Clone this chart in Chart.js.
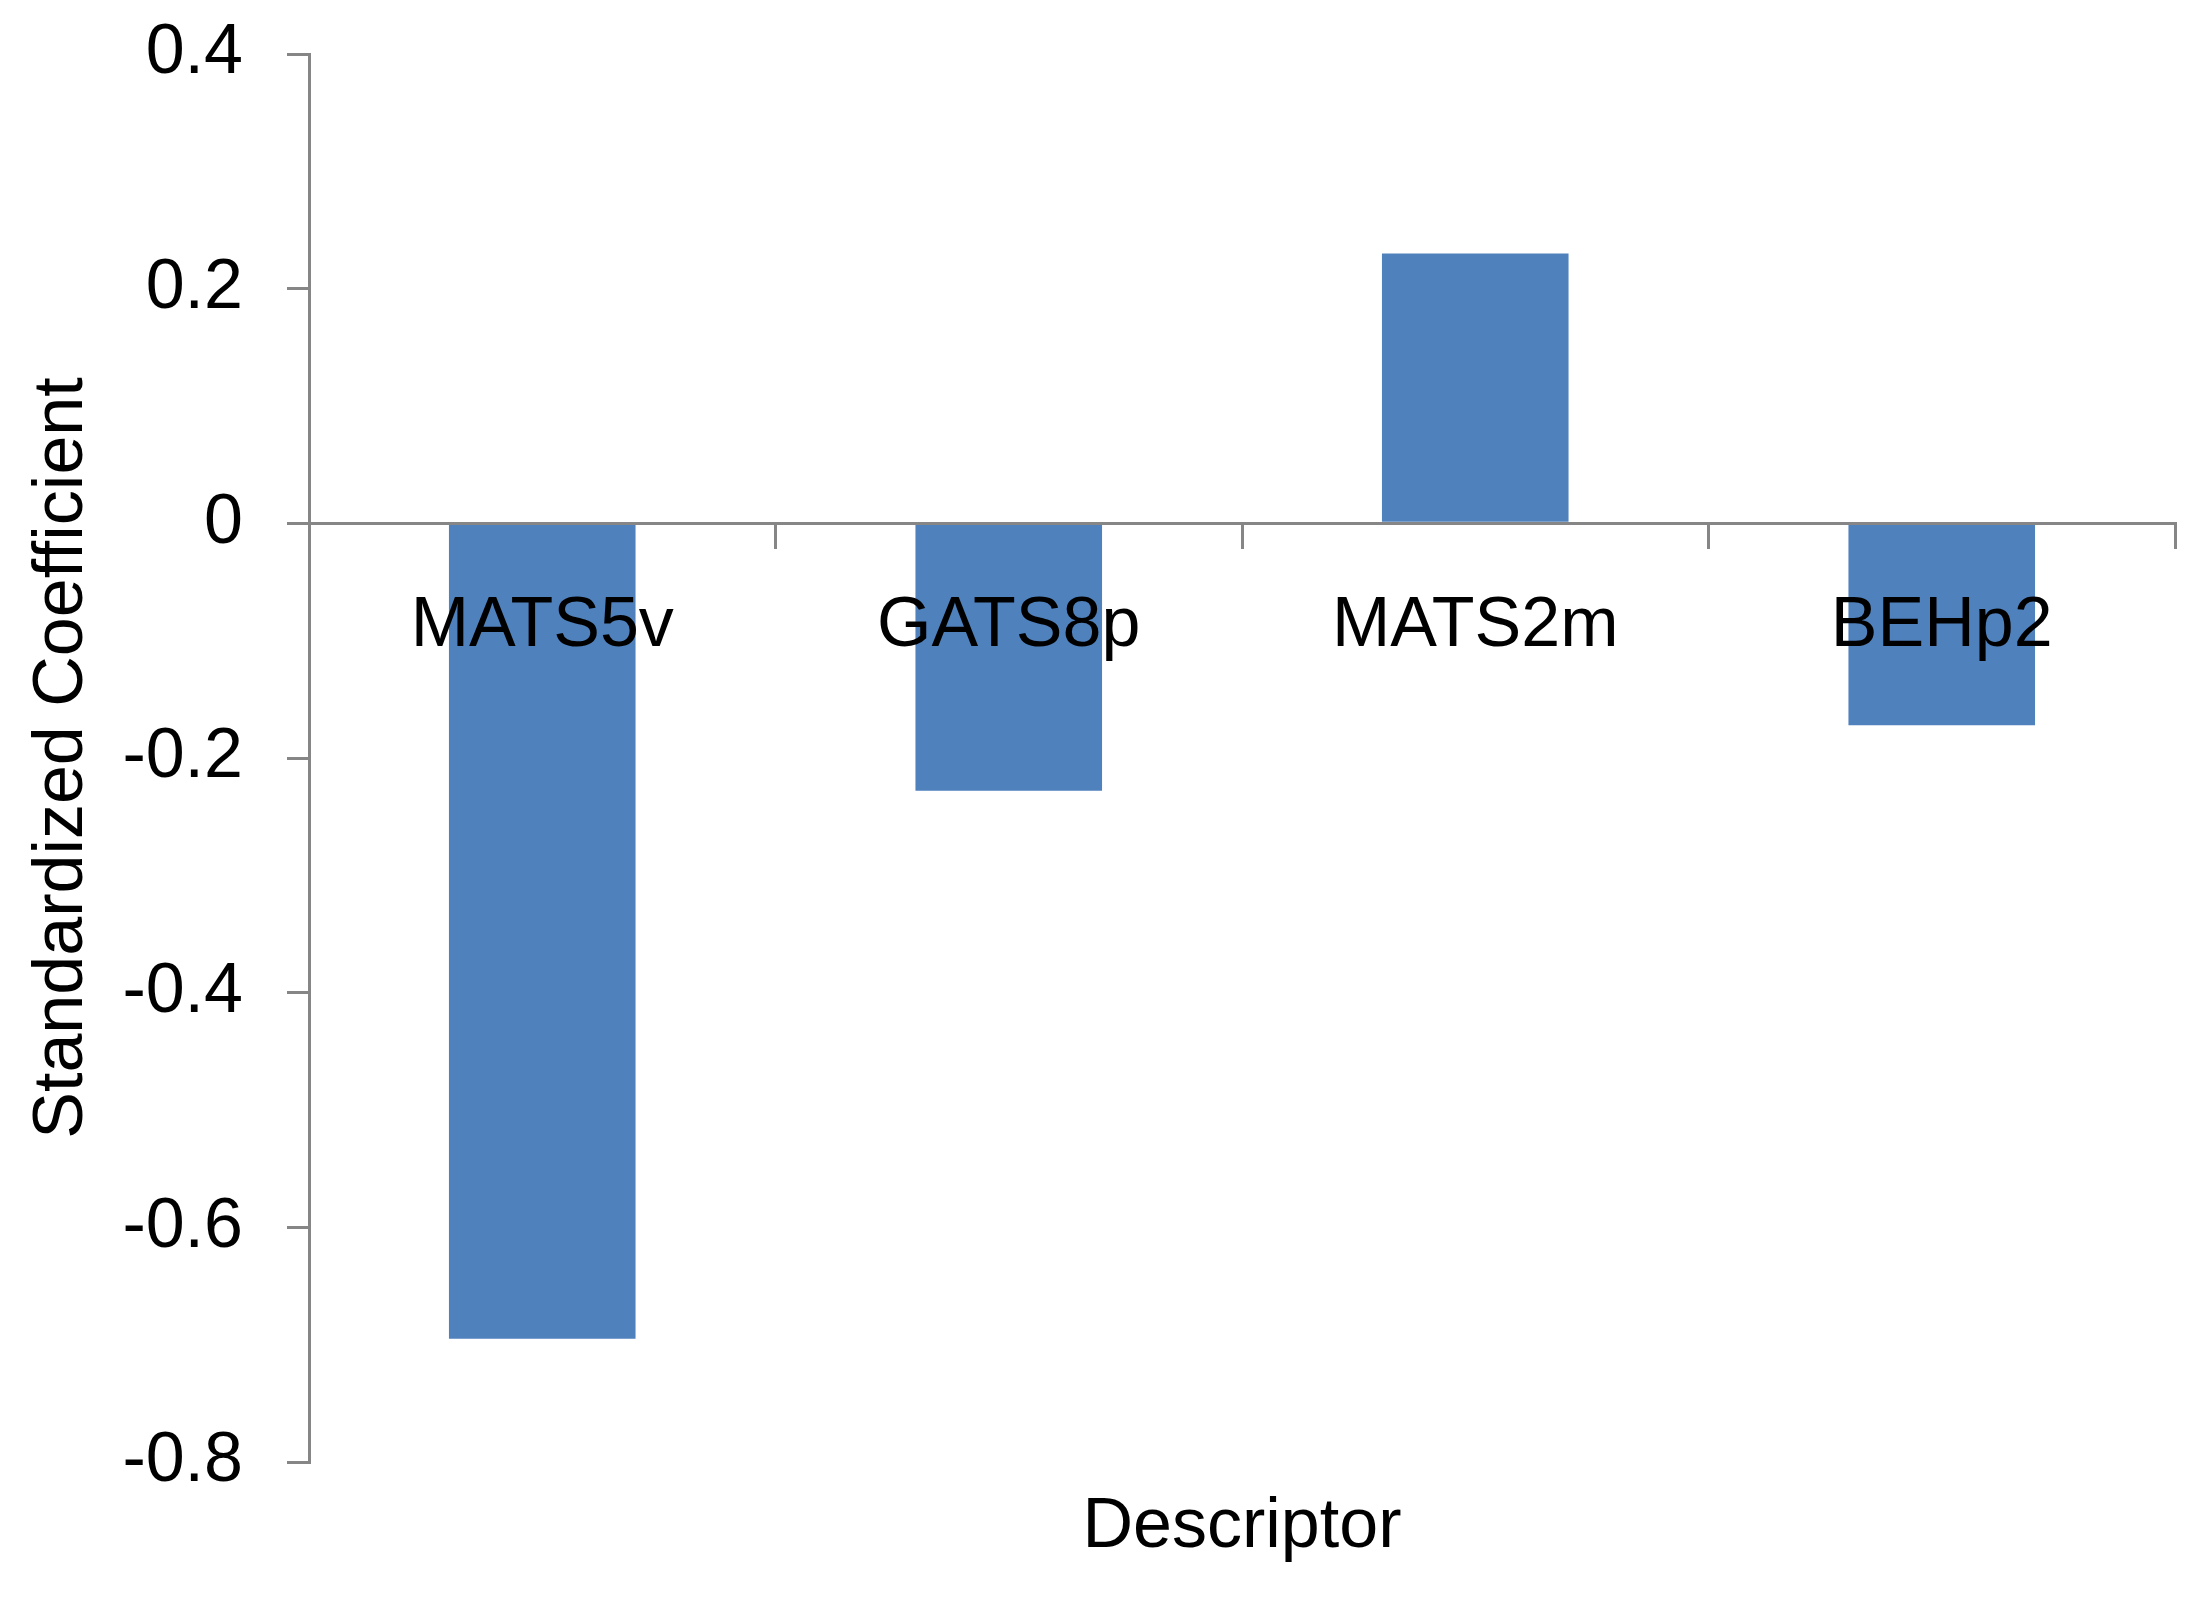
<!DOCTYPE html>
<html>
<head>
<meta charset="utf-8">
<script src="https://cdn.jsdelivr.net/npm/chart.js@4.4.0/dist/chart.umd.min.js"></script>
<style>
  html, body { margin: 0; padding: 0; background: #fff; }
  #wrap { width: 2208px; height: 1598px; }
</style>
</head>
<body>
<div id="wrap"><canvas id="myChart" width="2208" height="1598"></canvas></div>
<script>
// descriptors and their standardized coefficients
const descriptors = ['MATS5v', 'GATS8p', 'MATS2m', 'BEHp2'];
const coefficients = [-0.695, -0.228, 0.23, -0.172];
const yTicks = [0.4, 0.2, 0, -0.2, -0.4, -0.6, -0.8];

const axisGray = '#868686';
const fontFamily = '"Liberation Sans Narrow", "Liberation Sans", Arial, sans-serif';

const ctx = document.getElementById('myChart').getContext('2d');

const myChart = new Chart(ctx, {
    type: 'bar',
    data: {
        labels: descriptors,
        datasets: [{
            label: 'Standardized Coefficient',
            data: coefficients,
            backgroundColor: '#4F81BD',
            borderWidth: 0,
            barPercentage: 0.4,
            categoryPercentage: 1.0
        }]
    },
    options: {
        responsive: false,
        animation: false,
        layout: {
            padding: { top: 54, right: 33, bottom: 0, left: 0 }
        },
        scales: {
            x: {
                position: { y: 0 },
                grid: {
                    offset: true,
                    drawOnChartArea: false,
                    drawTicks: true,
                    tickLength: 24,
                    color: axisGray,
                    lineWidth: 3,
                    z: 1
                },
                border: { color: axisGray, width: 3, z: 1 },
                ticks: {
                    color: '#000',
                    padding: 37,
                    z: 2,
                    font: { family: fontFamily, size: 70 }
                }
            },
            y: {
                min: -0.8,
                max: 0.4,
                afterFit: function (scale) {
                    scale.width = 309;
                    scale.paddingTop = 0;
                    scale.paddingBottom = 0;
                },
                afterBuildTicks: function (scale) {
                    scale.ticks = yTicks.map(v => ({ value: v }));
                },
                grid: {
                    drawOnChartArea: false,
                    drawTicks: true,
                    tickLength: 22,
                    color: axisGray,
                    lineWidth: 3
                },
                border: { color: axisGray, width: 3 },
                ticks: {
                    color: '#000',
                    padding: 44,
                    font: { family: fontFamily, size: 70 },
                    callback: function (value) {
                        return parseFloat(Number(value).toFixed(1)).toString();
                    }
                },
                title: {
                    display: true,
                    text: 'Standardized Coefficient',
                    color: '#000',
                    font: { family: fontFamily, size: 70, lineHeight: 1.2 },
                    padding: { top: 21, bottom: 0 }
                }
            }
        },
        plugins: {
            legend: { display: false },
            tooltip: { enabled: false },
            title: {
                display: true,
                position: 'bottom',
                fullSize: false,
                text: 'Descriptor',
                color: '#000',
                font: { family: fontFamily, size: 70, weight: 'normal', lineHeight: 1.2 },
                padding: { top: 24, bottom: 28 }
            }
        }
    }
});
</script>
</body>
</html>
